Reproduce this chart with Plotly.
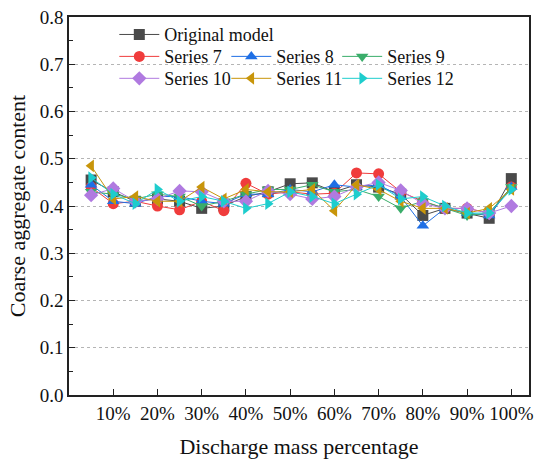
import plotly.graph_objects as go

# Discharge mass percentage (%) at each sampling point
discharge_pct = [5, 10, 15, 20, 25, 30, 35, 40, 45, 50,
                 55, 60, 65, 70, 75, 80, 85, 90, 95, 100]

original_model = [0.455, 0.430, 0.410, 0.415, 0.410, 0.395, 0.400, 0.420, 0.430, 0.447,
                  0.449, 0.430, 0.445, 0.440, 0.425, 0.380, 0.395, 0.385, 0.374, 0.458]
series_7 = [0.440, 0.405, 0.410, 0.400, 0.392, 0.410, 0.390, 0.448, 0.425, 0.430,
            0.425, 0.427, 0.470, 0.468, 0.430, 0.410, 0.395, 0.395, 0.385, 0.440]
series_8 = [0.445, 0.410, 0.405, 0.420, 0.420, 0.410, 0.405, 0.425, 0.425, 0.435,
            0.430, 0.445, 0.440, 0.445, 0.420, 0.358, 0.395, 0.385, 0.380, 0.440]
series_9 = [0.430, 0.425, 0.415, 0.425, 0.420, 0.400, 0.410, 0.425, 0.435, 0.435,
            0.445, 0.430, 0.435, 0.420, 0.395, 0.410, 0.395, 0.380, 0.385, 0.440]
series_10 = [0.423, 0.437, 0.410, 0.415, 0.432, 0.430, 0.410, 0.410, 0.432, 0.425,
             0.415, 0.420, 0.440, 0.450, 0.433, 0.405, 0.395, 0.395, 0.385, 0.400]
series_11 = [0.485, 0.415, 0.420, 0.410, 0.410, 0.440, 0.415, 0.435, 0.430, 0.430,
             0.435, 0.390, 0.445, 0.435, 0.410, 0.395, 0.395, 0.385, 0.395, 0.435]
series_12 = [0.460, 0.425, 0.405, 0.435, 0.410, 0.420, 0.410, 0.395, 0.405, 0.430,
             0.420, 0.405, 0.425, 0.445, 0.415, 0.420, 0.400, 0.385, 0.385, 0.435]

x_tick_vals = [10, 20, 30, 40, 50, 60, 70, 80, 90, 100]
x_tick_text = ["10%", "20%", "30%", "40%", "50%", "60%", "70%", "80%", "90%", "100%"]

FONT = "Liberation Serif"

# name, values, colour, marker symbol, legend grid cell (row, column)
series = [
    ("Original model", original_model, "#4a4a4a", "square", (0, 0)),
    ("Series 7", series_7, "#f03c3c", "circle", (1, 0)),
    ("Series 8", series_8, "#1f6fe5", "triangle-up", (1, 1)),
    ("Series 9", series_9, "#3aad6a", "triangle-down", (1, 2)),
    ("Series 10", series_10, "#b07ae0", "diamond", (2, 0)),
    ("Series 11", series_11, "#c8950a", "triangle-left", (2, 1)),
    ("Series 12", series_12, "#1ecdcd", "triangle-right", (2, 2)),
]

# Legend grid: column anchors and row centres in paper coordinates
legend_cols = [0.0985, 0.342, 0.583]
legend_rows = [0.953, 0.895, 0.837]

fig = go.Figure()
legends = {}
for i, (name, vals, color, symbol, (row, col)) in enumerate(series):
    leg_id = "legend" if i == 0 else f"legend{i + 1}"
    fig.add_trace(go.Scatter(
        x=discharge_pct, y=vals, name=name, mode="lines+markers",
        line=dict(color=color, width=1),
        marker=dict(symbol=symbol, size=11, color=color, line=dict(width=0)),
        legend=leg_id, showlegend=True,
    ))
    legends[leg_id] = dict(
        visible=True, x=legend_cols[col], y=legend_rows[row],
        orientation="h", xanchor="left", yanchor="middle",
        bgcolor="rgba(0,0,0,0)",
        font=dict(family=FONT, size=18, color="#111"),
        itemwidth=40, tracegroupgap=0,
    )

fig.update_layout(
    width=540, height=463,
    showlegend=True,
    margin=dict(l=69, r=7, t=15, b=68),
    paper_bgcolor="white", plot_bgcolor="white",
    font=dict(family=FONT, size=19, color="#111"),
    xaxis=dict(
        range=[0, 104], tickvals=x_tick_vals, ticktext=x_tick_text,
        ticks="inside", ticklen=6, tickwidth=1.2, tickcolor="#222",
        showline=True, linecolor="#222", linewidth=1.5, mirror=True,
        showgrid=False, zeroline=False,
        tickfont=dict(family=FONT, size=19),
        title=dict(text="Discharge mass percentage", font=dict(family=FONT, size=22), standoff=16),
    ),
    yaxis=dict(
        range=[0, 0.8], dtick=0.1, tickformat=".1f",
        ticks="inside", ticklen=6, tickwidth=1.2, tickcolor="#222",
        minor=dict(dtick=0.05, ticks="inside", ticklen=4, tickcolor="#222", showgrid=False),
        showline=True, linecolor="#222", linewidth=1.5, mirror=True,
        showgrid=True, gridcolor="#b5b5b5", griddash="dot", gridwidth=1,
        zeroline=False,
        tickfont=dict(family=FONT, size=19),
        title=dict(text="Coarse aggregate content", font=dict(family=FONT, size=22), standoff=8),
    ),
    **legends,
)

fig.write_html("out.html")
